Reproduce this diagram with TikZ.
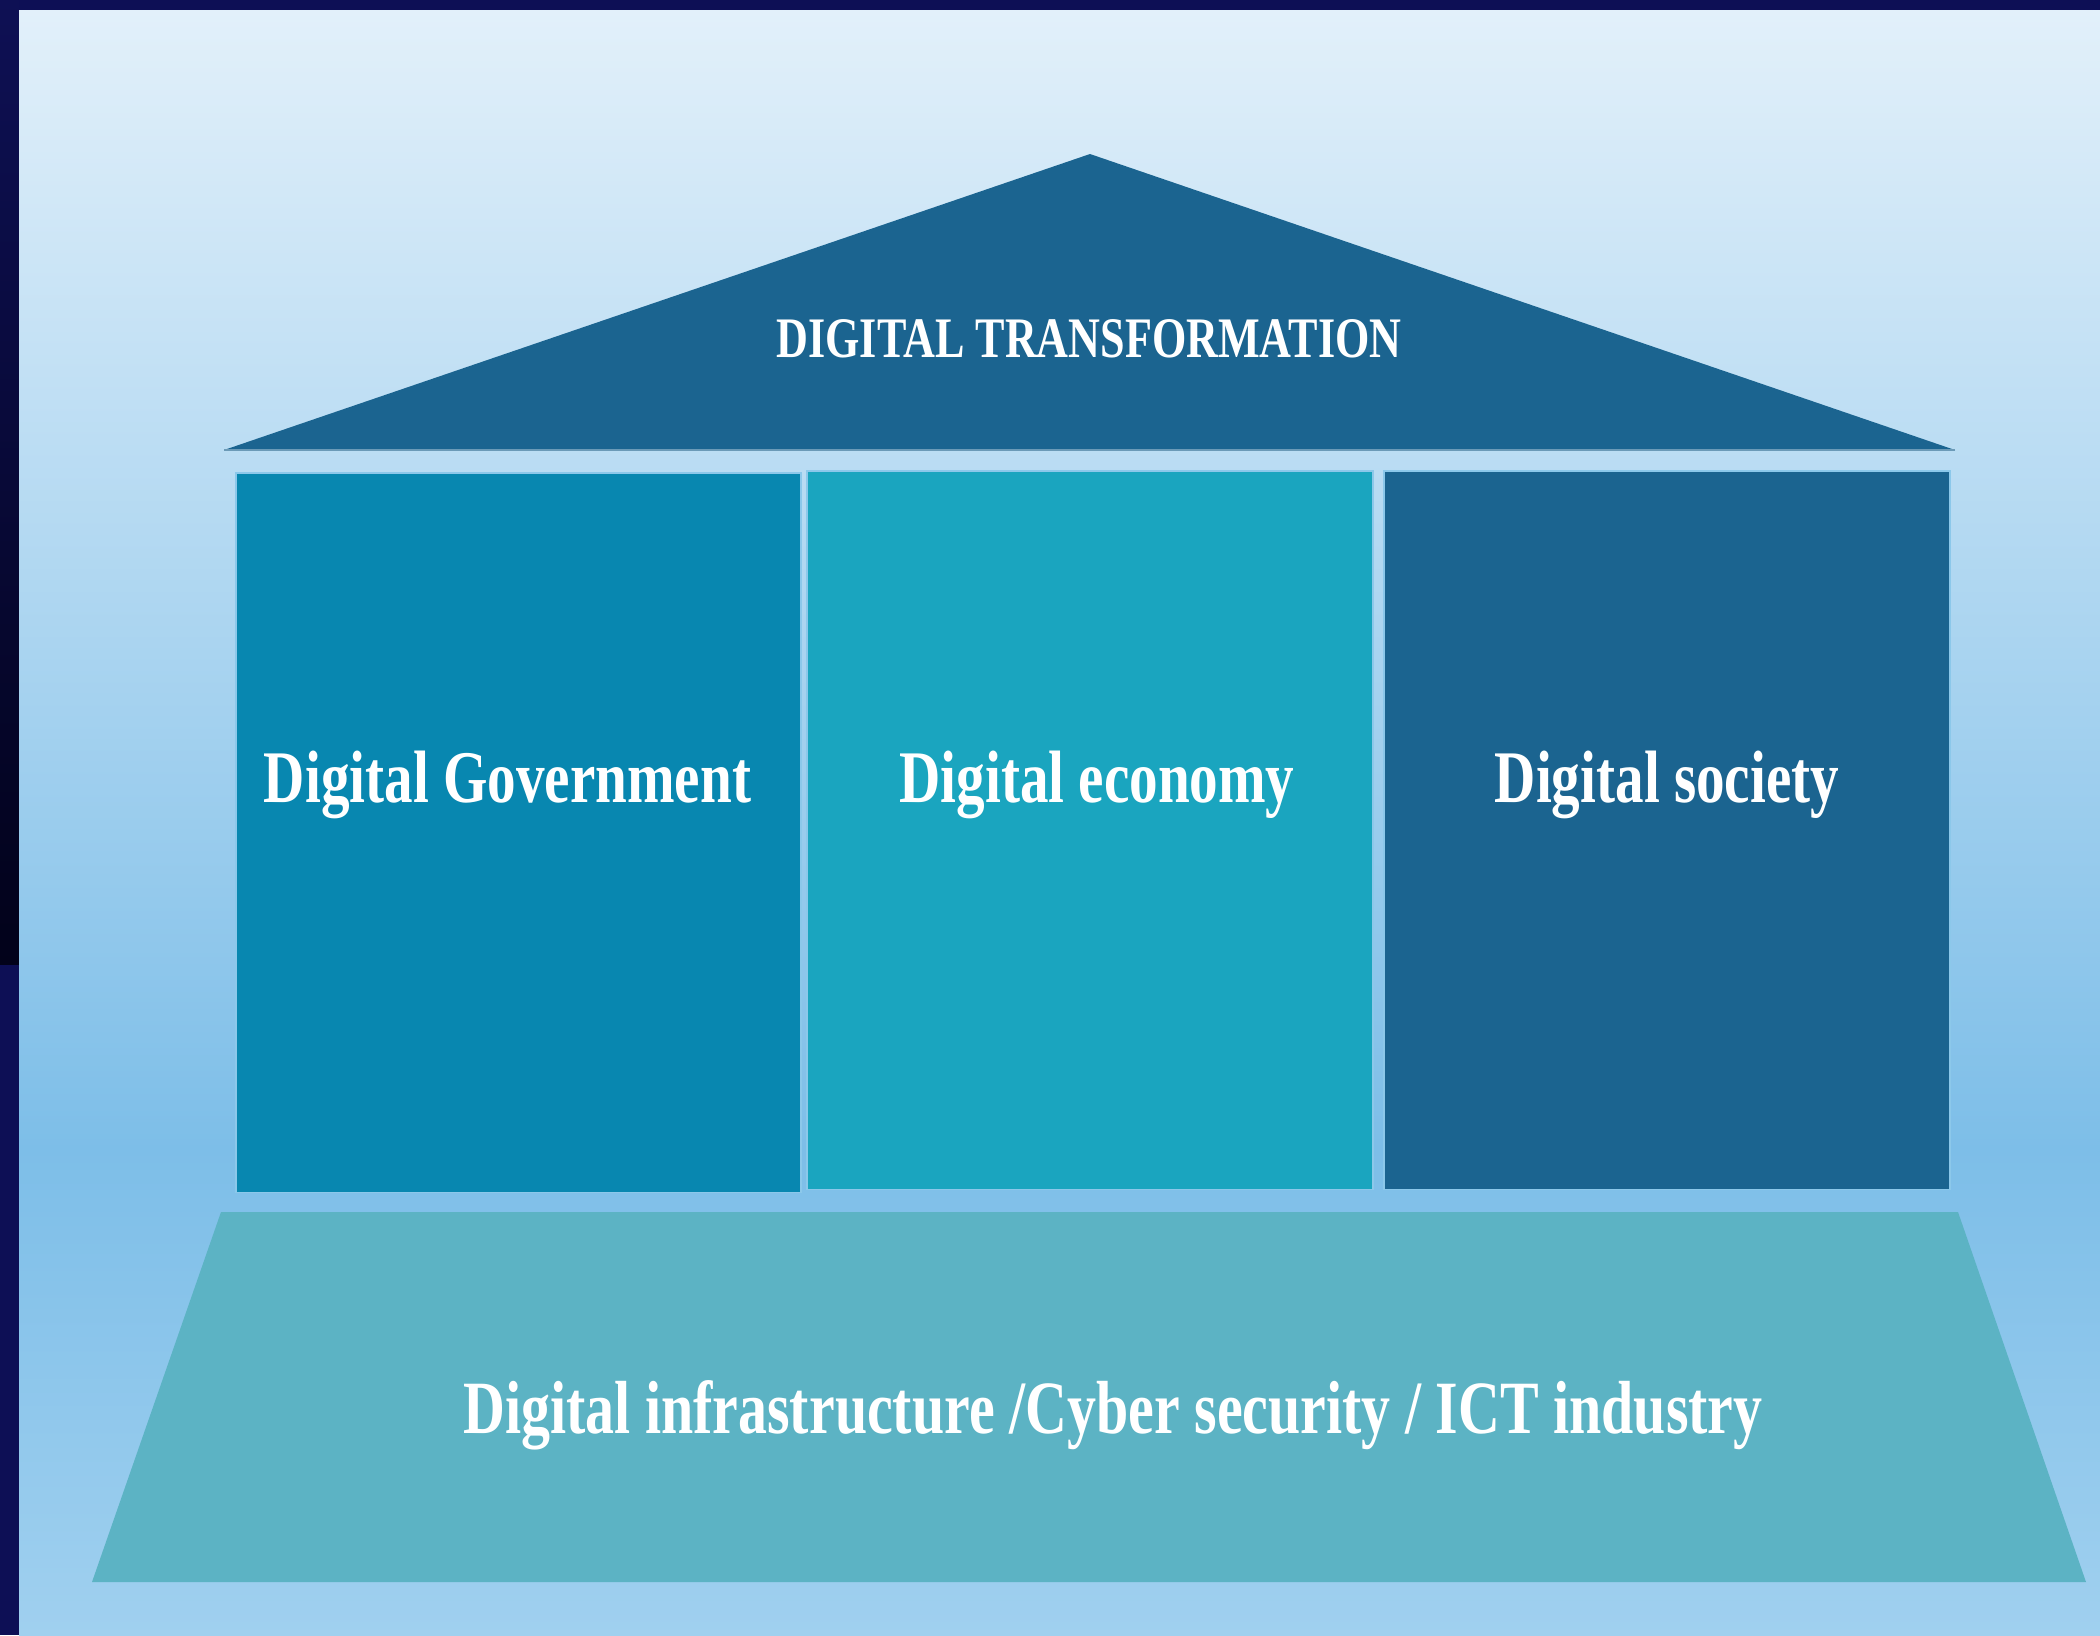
\documentclass[tikz,border=0pt]{standalone}
\usepackage{fontspec}
\setmainfont{Liberation Serif}
\newfontfamily\condfont[FakeStretch=0.77]{Liberation Serif Bold}
\definecolor{navyA}{HTML}{0E1054}
\definecolor{navyB}{HTML}{02021A}
\definecolor{navyC}{HTML}{0D0F55}
\definecolor{bgTop}{HTML}{E2F0FA}
\definecolor{bgMid}{HTML}{7DBEE8}
\definecolor{bgBot}{HTML}{A0D0EF}
\definecolor{roofC}{HTML}{1B6490}
\definecolor{govC}{HTML}{0887B0}
\definecolor{ecoC}{HTML}{1AA5BF}
\definecolor{socC}{HTML}{1B6490}
\definecolor{baseC}{HTML}{5CB3C4}
\definecolor{edgeC}{HTML}{8CC8EA}
\tikzset{
  pillar/.style={rectangle, inner sep=0pt, minimum width=#1, line width=0.4pt, draw=edgeC},
  pillartext/.style={text=white, anchor=base, inner sep=0pt, font=\condfont\fontsize{21.1}{25}\selectfont},
  basetext/.style={text=white, anchor=base, inner sep=0pt, font=\condfont\fontsize{21.4}{25}\selectfont},
  rooftext/.style={text=white, anchor=base, inner sep=0pt, font=\condfont\fontsize{16.3}{19}\selectfont},
}
\begin{document}
\begin{tikzpicture}[x=0.01cm, y=-0.01cm]
\useasboundingbox (0,0) rectangle (2100,1635);
% dark frame
\fill[navyC] (0,0) rectangle (2100,1635);
\shade[top color=navyA, bottom color=navyB] (0,0) rectangle (19,964);
% light background
\shade[top color=bgTop, bottom color=bgMid] (19,10) rectangle (2100,1150);
\shade[top color=bgMid, bottom color=bgBot] (19,1149) rectangle (2100,1635);
% roof
\coordinate (roofL) at (224,450);
\coordinate (roofT) at (1090,154);
\coordinate (roofR) at (1955,450);
\fill[roofC] (roofL) -- (roofT) -- (roofR) -- cycle;
\draw[white!35!roofC, line width=0.5pt] (roofL) -- (roofR);
\node[rooftext] (roof) at (1089,357) {DIGITAL TRANSFORMATION};
% pillars
\node[pillar=5.65cm, minimum height=7.19cm, fill=govC] (govbox) at (518.5,832.5) {};
\node[pillar=5.66cm, minimum height=7.18cm, fill=ecoC] (ecobox) at (1090,830) {};
\node[pillar=5.66cm, minimum height=7.18cm, fill=socC] (socbox) at (1667,830) {};
\node[pillartext] (gov) at (507.5,802) {Digital Government};
\node[pillartext] (eco) at (1097,802) {Digital economy};
\node[pillartext] (soc) at (1667,802) {Digital society};
% base
\coordinate (bTL) at (221,1212);
\coordinate (bTR) at (1958,1212);
\coordinate (bBR) at (2086,1582);
\coordinate (bBL) at (92,1582);
\fill[baseC] (bTL) -- (bTR) -- (bBR) -- (bBL) -- cycle;
\node[basetext] (base) at (1113,1433) {Digital infrastructure /Cyber security / ICT industry};
\end{tikzpicture}
\end{document}
